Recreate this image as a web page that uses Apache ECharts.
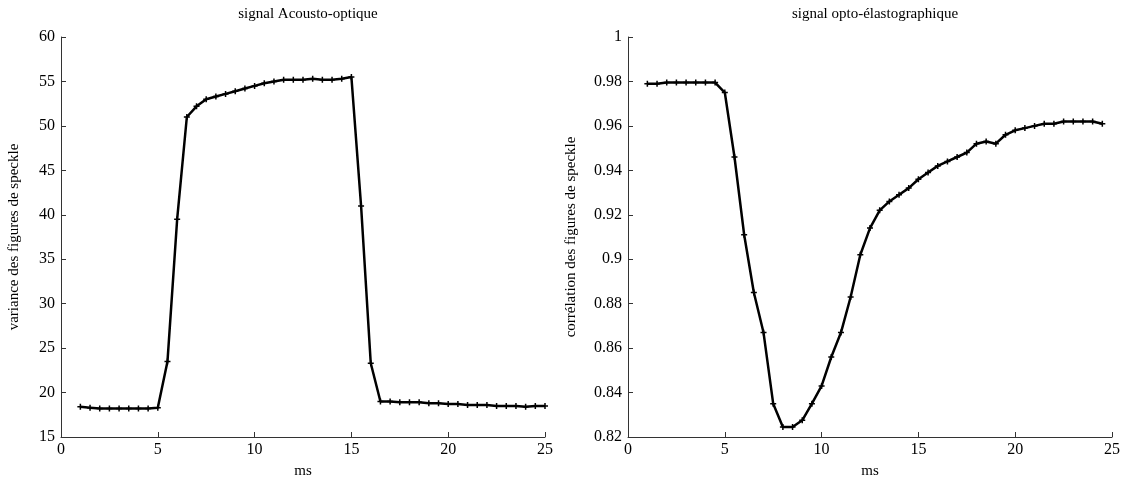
<!DOCTYPE html>
<html><head><meta charset="utf-8">
<script src="https://cdn.jsdelivr.net/npm/echarts@6/dist/echarts.min.js"></script>
<style>html,body{margin:0;padding:0;background:#fff}#c{width:1126px;height:488px}</style>
</head><body><div id="c"></div>
<script>
const timeLeft = [1,1.5,2,2.5,3,3.5,4,4.5,5,5.5,6,6.5,7,7.5,8,8.5,9,9.5,10,10.5,11,11.5,12,12.5,13,13.5,14,14.5,15,15.5,16,16.5,17,17.5,18,18.5,19,19.5,20,20.5,21,21.5,22,22.5,23,23.5,24,24.5,25];
const varianceValues = [18.4,18.3,18.2,18.2,18.2,18.2,18.2,18.2,18.3,23.5,39.5,51.0,52.2,53.0,53.3,53.6,53.9,54.2,54.5,54.8,55.0,55.2,55.2,55.2,55.3,55.2,55.2,55.3,55.5,41.0,23.3,19.0,19.0,18.9,18.9,18.9,18.8,18.8,18.7,18.7,18.6,18.6,18.6,18.5,18.5,18.5,18.4,18.5,18.5];
const timeRight = [1,1.5,2,2.5,3,3.5,4,4.5,5,5.5,6,6.5,7,7.5,8,8.5,9,9.5,10,10.5,11,11.5,12,12.5,13,13.5,14,14.5,15,15.5,16,16.5,17,17.5,18,18.5,19,19.5,20,20.5,21,21.5,22,22.5,23,23.5,24,24.5];
const correlationValues = [0.979,0.979,0.9795,0.9795,0.9795,0.9795,0.9795,0.9795,0.975,0.946,0.911,0.885,0.867,0.835,0.8245,0.8245,0.8275,0.835,0.843,0.856,0.867,0.883,0.902,0.914,0.922,0.926,0.929,0.932,0.936,0.939,0.942,0.944,0.946,0.948,0.952,0.953,0.952,0.956,0.958,0.959,0.960,0.961,0.961,0.962,0.962,0.962,0.962,0.961];
const titles = ['signal Acousto-optique','signal opto-élastographique'];
const yNames = ['variance des figures de speckle','corrélation des figures de speckle'];
const xName = 'ms';

const font = 'Liberation Serif';
const axisColor = '#333';
const plus = 'path://M0,5L10,5M5,0L5,10';
function xAxis(gi){
  return {type:'value',gridIndex:gi,min:0,max:25,interval:5,name:xName,nameLocation:'middle',nameGap:27,
    nameTextStyle:{fontFamily:font,fontSize:15,color:'#000'},
    axisLine:{lineStyle:{color:axisColor,width:1}},axisTick:{inside:true,length:5,lineStyle:{color:axisColor}},
    axisLabel:{fontFamily:font,fontSize:16,color:'#000',margin:5},splitLine:{show:false}};
}
function yAxis(gi,min,max,interval,name,dec){
  return {type:'value',gridIndex:gi,min:min,max:max,interval:interval,name:name,nameLocation:'middle',nameGap:dec?49:39,
    nameTextStyle:{fontFamily:font,fontSize:15,color:'#000'},
    axisLine:{show:true,lineStyle:{color:axisColor,width:1}},axisTick:{show:true,inside:true,length:5,lineStyle:{color:axisColor}},
    axisLabel:{fontFamily:font,fontSize:16,color:'#000',margin:6,formatter:v=>dec?String(+v.toFixed(2)):String(v)},splitLine:{show:false}};
}
const chart = echarts.init(document.getElementById('c'),null,{renderer:'canvas'});
chart.setOption({
  animation:false,
  title:[
    {text:titles[0],left:303,top:2,textAlign:'center',textStyle:{fontFamily:font,fontSize:15,fontWeight:'normal',color:'#000'}},
    {text:titles[1],left:870,top:2,textAlign:'center',textStyle:{fontFamily:font,fontSize:15,fontWeight:'normal',color:'#000'}}
  ],
  grid:[{left:61,right:581,top:37,bottom:51},{left:628,right:14,top:37,bottom:51}],
  xAxis:[xAxis(0),xAxis(1)],
  yAxis:[yAxis(0,15,60,5,yNames[0],false),yAxis(1,0.82,1,0.02,yNames[1],true)],
  series:[
    {type:'line',xAxisIndex:0,yAxisIndex:0,data:timeLeft.map((t,i)=>[t,varianceValues[i]]),
      symbol:plus,symbolSize:6,showAllSymbol:true,lineStyle:{color:'#000',width:2.5},itemStyle:{color:'#000',borderColor:'#000',borderWidth:1.5}},
    {type:'line',xAxisIndex:1,yAxisIndex:1,data:timeRight.map((t,i)=>[t,correlationValues[i]]),
      symbol:plus,symbolSize:6,showAllSymbol:true,lineStyle:{color:'#000',width:2.5},itemStyle:{color:'#000',borderColor:'#000',borderWidth:1.5}}
  ]
});
</script></body></html>
